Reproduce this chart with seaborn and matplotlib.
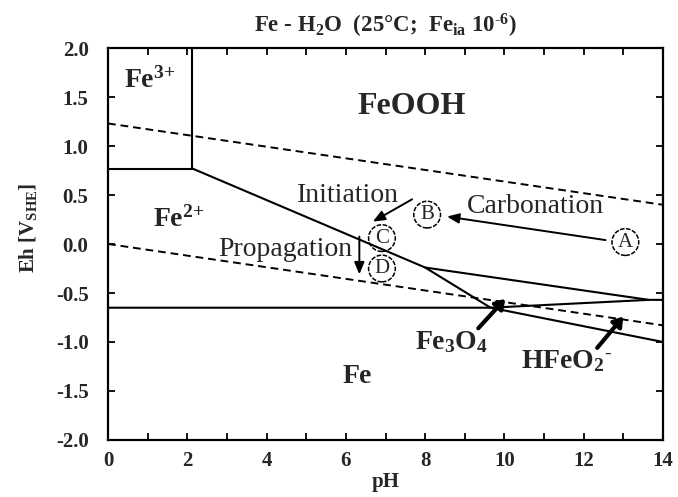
import numpy as np
import pandas as pd
import matplotlib
matplotlib.use("Agg")
import matplotlib.pyplot as plt
import seaborn as sns

# ---- Pourbaix boundaries (pH, Eh in V vs SHE) ----
# explicit vertices of each solid boundary
seg_names = ["fe3_fe2", "fe3_fe2",
             "fe3_feooh", "fe3_feooh",
             "fe2_feooh", "fe2_feooh", "fe2_feooh", "fe2_feooh",
             "fe_low", "fe_low", "fe_low", "fe_low",
             "fe2_fe3o4", "fe2_fe3o4"]
seg_ph = [0.0, 2.13,
          2.13, 2.13,
          2.13, 8.0, 9.65, 14.0,
          0.0, 9.65, 13.64, 14.0,
          8.0, 13.64]
seg_eh = [0.77, 0.77,
          2.0, 0.77,
          0.77, -0.24, -0.65, -1.0,
          -0.65, -0.65, -0.57, -0.57,
          -0.24, -0.57]

# water stability lines (dashed)
water_names = ["o2", "o2", "h2", "h2"]
water_ph = [0.0, 14.0, 0.0, 14.0]
water_eh = [1.23, 0.40, 0.0, -0.83]

# species labels
species_text = [r"Fe$^{3{+}}$", "FeOOH", r"Fe$^{2{+}}$", "Fe", r"Fe$_3$O$_4$",
                r"HFeO$_2{}^{\text{-}}$"]
species_ph = [1.05, 7.67, 1.78, 6.29, 8.67, 11.57]
species_eh = [1.67, 1.40, 0.25, -1.35, -1.0, -1.2]
species_size = [20, 23, 20, 20, 20, 20]

# state points
point_names = ["A", "B", "C", "D"]
point_ph = [13.05, 8.05, 6.91, 6.91]
point_eh = [0.02, 0.30, 0.06, -0.25]

# process labels
process_text = ["Carbonation", "Initiation", "Propagation"]
process_ph = [10.78, 6.05, 4.48]
process_eh = [0.38, 0.50, -0.06]

# process arrows: start -> end
arrow_start_ph = [12.55, 7.67, 6.34]
arrow_start_eh = [0.04, 0.456, 0.075]
arrow_end_ph = [8.55, 6.68, 6.34]
arrow_end_eh = [0.28, 0.228, -0.31]

# pointer arrows for the narrow oxide fields
pointer_start_ph = [9.34, 12.34]
pointer_start_eh = [-0.86, -1.06]
pointer_end_ph = [10.02, 13.0]
pointer_end_eh = [-0.56, -0.74]

x_ticks = list(range(0, 15, 2))
y_ticks = [2.0, 1.5, 1.0, 0.5, 0.0, -0.5, -1.0, -1.5, -2.0]

sns.set_theme(style="ticks")
plt.rcParams["font.family"] = ["Liberation Serif", "DejaVu Serif"]
plt.rcParams["mathtext.fontset"] = "custom"
plt.rcParams["mathtext.rm"] = "Liberation Serif"
plt.rcParams["mathtext.it"] = "Liberation Serif:italic"
plt.rcParams["mathtext.bf"] = "Liberation Serif:bold"
plt.rcParams["mathtext.default"] = "bf"
plt.rcParams["axes.unicode_minus"] = False

fig = plt.figure(figsize=(6.78, 4.97), dpi=100)
ax = fig.add_axes([0.1593, 0.1147, 0.8186, 0.7887])

solid = pd.DataFrame({"pH": seg_ph, "Eh": seg_eh, "seg": seg_names})
water = pd.DataFrame({"pH": water_ph, "Eh": water_eh, "seg": water_names})

sns.lineplot(data=solid, x="pH", y="Eh", units="seg", estimator=None, sort=False,
             color="black", lw=1.5, ax=ax)
sns.lineplot(data=water, x="pH", y="Eh", units="seg", estimator=None, sort=False,
             color="black", lw=1.4, ax=ax, linestyle=(0, (4, 2.5)))

pts = pd.DataFrame({"pH": point_ph, "Eh": point_eh, "name": point_names})
sns.scatterplot(data=pts, x="pH", y="Eh", s=370, marker="o", facecolor="none",
                edgecolor="black", linewidth=1.1, linestyle=(0, (3, 1)), ax=ax, zorder=3)
for n, x, y in zip(point_names, point_ph, point_eh):
    ax.text(x, y, n, ha="center", va="center", fontsize=15, fontweight="normal")

for t, x, y, s in zip(species_text, species_ph, species_eh, species_size):
    ax.text(x, y, t, ha="center", va="center", fontsize=s, fontweight="bold")

for t, x, y in zip(process_text, process_ph, process_eh):
    ax.text(x, y, t, ha="center", va="center", fontsize=20, fontweight="normal")

for x0, y0, x1, y1 in zip(arrow_start_ph, arrow_start_eh, arrow_end_ph, arrow_end_eh):
    ax.annotate("", xy=(x1, y1), xytext=(x0, y0),
                arrowprops=dict(arrowstyle="-|>,head_length=0.6,head_width=0.25",
                                color="black", lw=1.4, shrinkA=0, shrinkB=0))

for x0, y0, x1, y1 in zip(pointer_start_ph, pointer_start_eh, pointer_end_ph, pointer_end_eh):
    ax.annotate("", xy=(x1, y1), xytext=(x0, y0),
                arrowprops=dict(arrowstyle="-|>,head_length=0.45,head_width=0.3",
                                color="black", lw=3.0, shrinkA=0, shrinkB=0))

ax.set_xlim(0, 14)
ax.set_ylim(-2.0, 2.0)
ax.set_xticks(x_ticks)
ax.set_xticklabels([str(v) for v in x_ticks], fontsize=15, fontweight="bold")
ax.set_xticks(list(range(0, 15)), minor=True)
ax.set_yticks(y_ticks)
ax.set_yticklabels([f"{v:.1f}" for v in y_ticks], fontsize=15, fontweight="bold")
ax.tick_params(which="both", direction="in", top=True, right=True, length=5, width=1.3,
               color="black")
ax.tick_params(axis="y", pad=14)
ax.tick_params(axis="x", pad=8)
for sp in ax.spines.values():
    sp.set_linewidth(1.6)
    sp.set_color("black")

ax.set_xlabel("pH", fontsize=15, fontweight="bold", labelpad=1)
ax.set_ylabel(r"Eh [V$_{SHE}$]", fontsize=15, fontweight="bold", labelpad=6)
ax.yaxis.set_label_coords(-0.125, 0.54)
ax.set_title(r"Fe - H$_2$O  (25°C;  Fe$_{ia}$ 10$^{\text{-}6}$)", fontsize=16.5,
             fontweight="bold", pad=11)

fig.savefig("out.png", dpi=100)
